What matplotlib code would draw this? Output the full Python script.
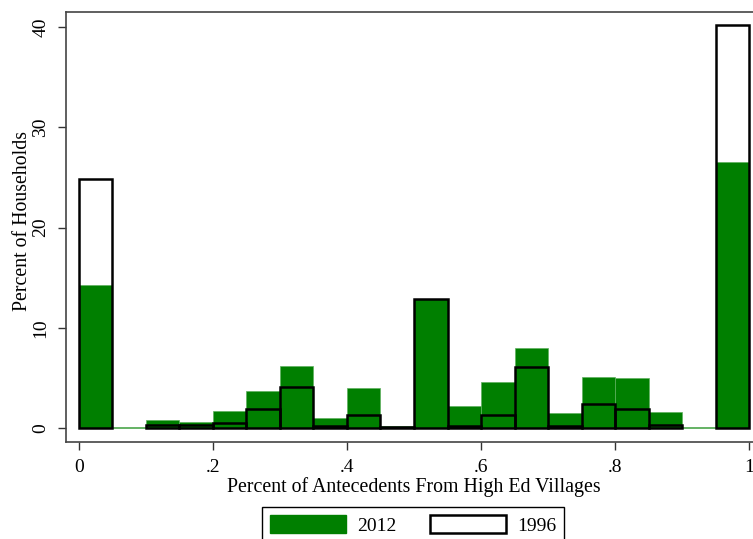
import matplotlib
matplotlib.use('Agg')
import matplotlib.pyplot as plt
from matplotlib.patches import Patch
import numpy as np

# bin left edges, width 0.05
bin_left = [0.00, 0.05, 0.10, 0.15, 0.20, 0.25, 0.30, 0.35, 0.40, 0.45,
            0.50, 0.55, 0.60, 0.65, 0.70, 0.75, 0.80, 0.85, 0.90, 0.95]
bin_width = 0.05

pct_2012 = [14.3, 0.1, 0.75, 0.6, 1.7, 3.65, 6.15, 0.95, 4.0, 0.2,
            12.9, 2.15, 4.6, 8.0, 1.5, 5.05, 4.95, 1.6, 0.1, 26.5]
pct_1996 = [24.8, 0.0, 0.3, 0.3, 0.45, 1.85, 4.1, 0.15, 1.3, 0.08,
            12.9, 0.15, 1.3, 6.05, 0.15, 2.4, 1.85, 0.3, 0.0, 40.2]

xticks = [0, 0.2, 0.4, 0.6, 0.8, 1.0]
xtick_labels = ['0', '.2', '.4', '.6', '.8', '1']
yticks = [0, 10, 20, 30, 40]

plt.rcParams['font.family'] = ['Liberation Serif', 'DejaVu Serif']
green = '#007f00'

fig = plt.figure(figsize=(7.53, 5.39), dpi=100)
ax = fig.add_axes([66 / 753, (539 - 442) / 539, (762 - 66) / 753, (442 - 12) / 539])

left = np.array(bin_left)
h12 = np.array(pct_2012)
h96 = np.array(pct_1996)

ax.bar(left, h12, width=bin_width, align='edge', color=green,
       edgecolor='#5fb05f', linewidth=0.5, zorder=2)
m = h96 > 0
ax.bar(left[m], h96[m], width=bin_width, align='edge', facecolor='none',
       edgecolor='black', linewidth=1.8, zorder=3)

ax.set_xlim(-0.019, 1.019)
ax.set_ylim(-1.4, 41.5)
ax.set_xticks(xticks)
ax.set_xticklabels(xtick_labels)
ax.set_yticks(yticks)
for lab in ax.get_yticklabels():
    lab.set_rotation(90)
    lab.set_va('center')

ax.tick_params(axis='both', labelsize=14, length=6, width=1, color='#333333',
               direction='out', pad=6)
ax.set_xlabel('Percent of Antecedents From High Ed Villages', fontsize=14.3, labelpad=1)
ax.set_ylabel('Percent of Households', fontsize=14.3, labelpad=0.5, y=0.514)

for s in ['left', 'top', 'bottom']:
    ax.spines[s].set_color('#444444')
    ax.spines[s].set_linewidth(1.2)
ax.spines['right'].set_visible(False)

handles = [Patch(facecolor=green, edgecolor=green, label='2012'),
           Patch(facecolor='white', edgecolor='black', linewidth=1.8, label='1996')]
fig.legend(handles=handles, loc='upper left', ncol=2,
           bbox_to_anchor=(262 / 753, 1 - 507 / 539), borderaxespad=0,
           fontsize=14, frameon=True, fancybox=False, edgecolor='black',
           handlelength=3.9, handleheight=1.1, handletextpad=0.6,
           columnspacing=1.7, borderpad=0.4, framealpha=1)

fig.savefig('out.png', dpi=100)
